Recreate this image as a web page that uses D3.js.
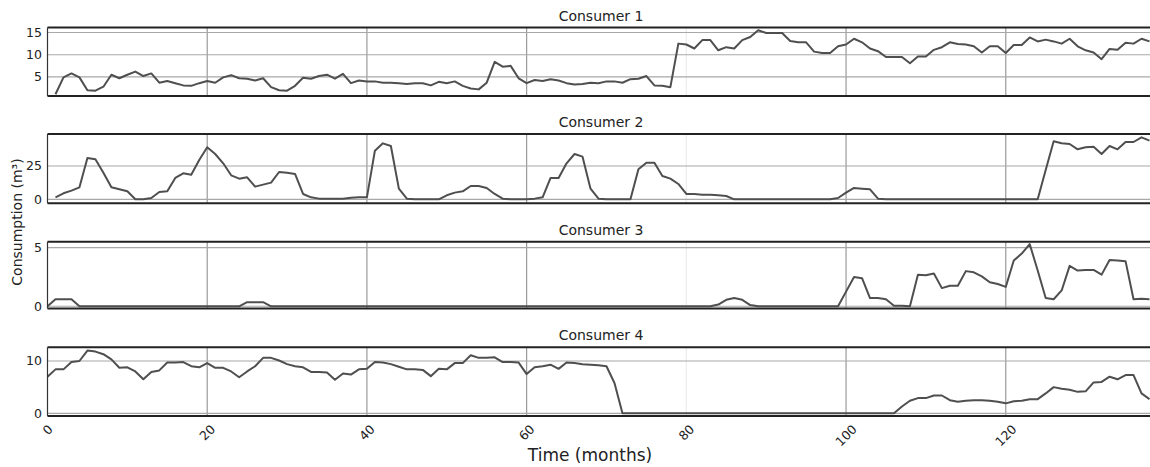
<!DOCTYPE html>
<meta charset="utf-8">
<style>
  body { margin: 0; background: #fff; font-family: "DejaVu Sans", sans-serif; }
  svg { display: block; }
  .tick-label { font-size: 12.5px; fill: #222; }
  .panel-title { font-size: 14px; fill: #222; }
</style>
<body>
<svg id="chart" width="1150" height="467"></svg>
<script src="https://d3js.org/d3.v7.min.js"></script>
<script>
  // month index 0..138
  const months = d3.range(0, 139);

  const titles = ["Consumer 1", "Consumer 2", "Consumer 3", "Consumer 4"];

  const consumer1 = [null,
    1.1, 4.9, 5.8, 4.9, 2.0, 1.9, 2.8, 5.5, 4.7, 5.5,
    6.2, 5.2, 5.8, 3.7, 4.1, 3.6, 3.1, 3.0, 3.6, 4.1,
    3.7, 4.9, 5.4, 4.7, 4.6, 4.2, 4.7, 2.7, 2.0, 1.9,
    3.0, 4.8, 4.6, 5.2, 5.5, 4.6, 5.7, 3.6, 4.2, 4.0,
    4.0, 3.7, 3.7, 3.6, 3.4, 3.6, 3.6, 3.1, 3.9, 3.6,
    4.0, 3.0, 2.4, 2.2, 3.7, 8.4, 7.3, 7.5, 4.7, 3.6,
    4.3, 4.1, 4.5, 4.2, 3.6, 3.3, 3.4, 3.7, 3.6, 4.0,
    4.0, 3.7, 4.5, 4.6, 5.2, 3.1, 3.0, 2.7, 12.5, 12.3,
    11.4, 13.3, 13.3, 11.0, 11.7, 11.4, 13.3, 14.0, 15.5, 14.9,
    14.9, 14.9, 13.1, 12.8, 12.8, 10.7, 10.4, 10.4, 11.9, 12.3,
    13.6, 12.8, 11.4, 10.8, 9.5, 9.5, 9.5, 8.1, 9.6, 9.6,
    11.1, 11.7, 12.8, 12.4, 12.3, 11.9, 10.5, 11.9, 11.9, 10.4,
    12.2, 12.2, 13.9, 13.0, 13.4, 13.0, 12.5, 13.6, 11.9, 11.0,
    10.5, 9.0, 11.3, 11.1, 12.7, 12.5, 13.6, 13.0];

  const consumer2 = [null,
    1.5, 4.5, 6.5, 9, 31, 30, 20, 9, 7.5, 6,
    0, 0, 1, 5.5, 6, 16, 19.5, 18.5, 29.5, 39,
    34, 27, 18, 15.5, 16.5, 9.5, 11, 12.5, 20.5, 20,
    19, 4, 1.5, 0.5, 0.5, 0.5, 0.5, 1.2, 1.5, 1.5,
    36.5, 42, 40, 8, 0.5, 0, 0, 0, 0, 3,
    5, 6, 10, 10, 8.5, 4, 0.5, 0, 0, 0,
    0.5, 1.5, 16, 16, 27, 34, 32, 8, 0.5, 0,
    0, 0, 0, 22.5, 27.5, 27.5, 17.5, 15.5, 11.5, 4,
    4, 3.5, 3.5, 3, 2.5, 0, 0, 0, 0, 0,
    0, 0, 0, 0, 0, 0, 0, 0, 1, 5,
    8.5, 8, 7.5, 0.5, 0, 0, 0, 0, 0, 0,
    0, 0, 0, 0, 0, 0, 0, 0, 0, 0,
    0, 0, 0, 0, 22, 43.5, 42, 41.5, 37.5, 39,
    39.5, 34, 40, 37.5, 43, 43, 46.5, 44];

  const consumer3 = [0,
    0.6, 0.6, 0.6, 0, 0, 0, 0, 0, 0, 0,
    0, 0, 0, 0, 0, 0, 0, 0, 0, 0,
    0, 0, 0, 0, 0.35, 0.35, 0.35, 0, 0, 0,
    0, 0, 0, 0, 0, 0, 0, 0, 0, 0,
    0, 0, 0, 0, 0, 0, 0, 0, 0, 0,
    0, 0, 0, 0, 0, 0, 0, 0, 0, 0,
    0, 0, 0, 0, 0, 0, 0, 0, 0, 0,
    0, 0, 0, 0, 0, 0, 0, 0, 0, 0,
    0, 0, 0, 0.15, 0.55, 0.7, 0.55, 0.1, 0, 0,
    0, 0, 0, 0, 0, 0, 0, 0, 0, 1.25,
    2.5, 2.4, 0.7, 0.7, 0.6, 0.05, 0.05, 0, 2.7, 2.65,
    2.8, 1.55, 1.75, 1.75, 3.0, 2.9, 2.55, 2.05, 1.9, 1.65,
    3.9, 4.5, 5.3, 3.05, 0.7, 0.6, 1.35, 3.45, 3.05, 3.1,
    3.1, 2.7, 3.95, 3.9, 3.85, 0.6, 0.65, 0.6];

  const consumer4 = [7.0,
    8.4, 8.4, 9.8, 10.0, 12.0, 11.8, 11.3, 10.3, 8.7, 8.8,
    8.0, 6.5, 7.9, 8.2, 9.7, 9.7, 9.8, 9.0, 8.8, 9.6,
    8.7, 8.7, 8.0, 6.9, 8.0, 9.0, 10.6, 10.6, 10.1, 9.4,
    9.0, 8.8, 7.9, 7.9, 7.8, 6.4, 7.6, 7.4, 8.4, 8.5,
    9.8, 9.7, 9.4, 8.9, 8.4, 8.4, 8.3, 7.1, 8.5, 8.4,
    9.6, 9.6, 11.1, 10.6, 10.6, 10.7, 9.8, 9.8, 9.7, 7.5,
    8.8, 9.0, 9.3, 8.5, 9.7, 9.6, 9.4, 9.3, 9.2, 9.0,
    5.8, 0, 0, 0, 0, 0, 0, 0, 0, 0,
    0, 0, 0, 0, 0, 0, 0, 0, 0, 0,
    0, 0, 0, 0, 0, 0, 0, 0, 0, 0,
    0, 0, 0, 0, 0, 0, 1.3, 2.4, 2.9, 2.9,
    3.4, 3.4, 2.5, 2.2, 2.4, 2.5, 2.5, 2.4, 2.2, 1.9,
    2.3, 2.4, 2.7, 2.7, 3.8, 5.0, 4.7, 4.5, 4.1, 4.2,
    5.9, 6.0, 7.0, 6.5, 7.3, 7.3, 3.8, 2.7];

  const series = [consumer1, consumer2, consumer3, consumer4];
  const yTicks = [[5, 10, 15], [0, 25], [0, 5], [0, 10]];
  const yDomains = [[0.71, 16.13], [-3, 49], [-0.19, 5.51], [-0.52, 12.62]];
  const xTicks = [0, 20, 40, 60, 80, 100, 120];

  // panel placement (px)
  const panels = [
    { top: 27.5, bottom: 96 },
    { top: 134, bottom: 203.3 },
    { top: 241.7, bottom: 308.5 },
    { top: 347.3, bottom: 416 }
  ];

  const svg = d3.select("#chart");
  const left = 47.5, right = 1149.5;
  const x = d3.scaleLinear().domain([0, 138]).range([left, right]);

  panels.forEach((p, i) => {
    const y = d3.scaleLinear().domain(yDomains[i]).range([p.bottom, p.top]);
    const g = svg.append("g");

    // vertical grid
    g.selectAll(".vgrid")
      .data(xTicks.filter(t => t > 0))
      .join("line")
      .attr("x1", d => x(d)).attr("x2", d => x(d))
      .attr("y1", p.top).attr("y2", p.bottom)
      .attr("stroke", d => d === 80 ? "#ececec" : "#9a9a9a")
      .attr("stroke-width", 1.2);

    // horizontal grid
    g.selectAll(".hgrid")
      .data(yTicks[i])
      .join("line")
      .attr("x1", left).attr("x2", 1150)
      .attr("y1", d => y(d)).attr("y2", d => y(d))
      .attr("stroke", "#a8a8a8")
      .attr("stroke-width", 1.2);

    // y tick labels
    g.selectAll(".ylab")
      .data(yTicks[i])
      .join("text")
      .attr("class", "tick-label")
      .attr("x", 42)
      .attr("y", d => y(d))
      .attr("dy", "0.36em")
      .attr("text-anchor", "end")
      .text(d => d);

    // data line
    const line = d3.line()
      .defined(d => d[1] !== null)
      .x(d => x(d[0]))
      .y(d => y(d[1]));
    g.append("path")
      .datum(months.map(m => [m, series[i][m]]))
      .attr("d", line)
      .attr("fill", "none")
      .attr("stroke", "#4f4f4f")
      .attr("stroke-width", 2)
      .attr("stroke-linejoin", "round");

    // frame: thick top/bottom, thin left
    g.append("line")
      .attr("x1", left).attr("x2", 1150)
      .attr("y1", p.top).attr("y2", p.top)
      .attr("stroke", "#222").attr("stroke-width", 2);
    g.append("line")
      .attr("x1", left).attr("x2", 1150)
      .attr("y1", p.bottom).attr("y2", p.bottom)
      .attr("stroke", "#222").attr("stroke-width", 2);
    g.append("line")
      .attr("x1", left).attr("x2", left)
      .attr("y1", p.top).attr("y2", p.bottom)
      .attr("stroke", "#333").attr("stroke-width", 1.2);

    g.append("text")
      .attr("class", "panel-title")
      .attr("x", 601)
      .attr("y", p.top - 7)
      .attr("text-anchor", "middle")
      .text(titles[i]);
  });

  // x tick labels, rotated 45 degrees, centred under the tick
  const last = panels[panels.length - 1];
  svg.selectAll(".xlab")
    .data(xTicks)
    .join("text")
    .attr("class", "tick-label")
    .attr("text-anchor", "middle")
    .attr("dy", "0.36em")
    .text(d => d)
    .each(function (d) {
      const w = this.getComputedTextLength();
      const h = 11;
      const cy = last.bottom + 7 + (w + h) / (2 * Math.SQRT2);
      d3.select(this)
        .attr("transform", `translate(${x(d)},${cy}) rotate(-45)`);
    });

  svg.append("text")
    .attr("x", 590)
    .attr("y", 461)
    .attr("text-anchor", "middle")
    .style("font-size", "17px")
    .style("fill", "#222")
    .text("Time (months)");

  svg.append("text")
    .attr("transform", "translate(22,222) rotate(-90)")
    .attr("text-anchor", "middle")
    .style("font-size", "14px")
    .style("fill", "#222")
    .text("Consumption (m³)");
</script>
</body>
